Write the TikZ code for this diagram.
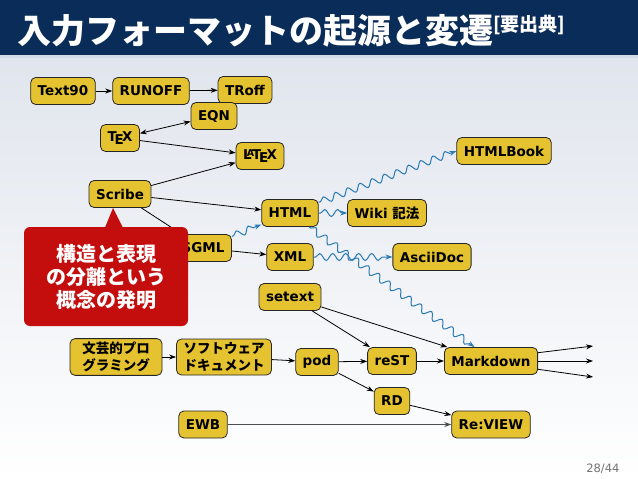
\documentclass[tikz,border=0pt]{standalone}
\usepackage{fontspec}
\setmainfont{DejaVu Sans}
\newfontfamily\jpfont{Noto Sans CJK JP}
\usetikzlibrary{arrows.meta, decorations.pathmorphing}

\definecolor{titlenavy}{RGB}{10,44,88}
\definecolor{stripblue}{RGB}{212,220,234}
\definecolor{boxgold}{RGB}{229,194,48}
\definecolor{wavyblue}{RGB}{40,122,180}
\definecolor{calloutred}{RGB}{196,14,14}

\begin{document}
\begin{tikzpicture}[x=1pt, y=-1pt, >={Stealth[length=7pt,width=5pt]},
    box/.style={draw=black!85, fill=boxgold, rounded corners=5pt, line width=0.8pt,
        font=\fontsize{13.5}{15}\selectfont\bfseries, inner xsep=7pt, minimum height=27pt},
    jpbox/.style={font=\jpfont\fontsize{13.5}{17}\selectfont\bfseries, align=center,
        minimum height=36pt, minimum width=92pt},
    flow/.style={->, line width=0.8pt},
    wave/.style={->, draw=wavyblue, line width=1pt, decorate,
        decoration={snake, amplitude=3.5pt, segment length=13pt, pre length=2pt, post length=5pt}},
    callout/.style={fill=calloutred, rounded corners=6pt, minimum width=164pt, minimum height=99pt,
        text=white, align=center, font=\jpfont\fontsize{20}{23}\selectfont\bfseries}]
    \useasboundingbox (0,0) rectangle (638,479);

    % Background and title bar
    \fill[top color=black!4!stripblue!60, bottom color=white] (0,55) rectangle (638,479);
    \fill[titlenavy] (0,0) rectangle (638,55);
    \fill[stripblue] (0,55) rectangle (638,58);
    \node[anchor=base west, text=white, inner sep=0pt, font=\jpfont\fontsize{34}{40}\selectfont\bfseries] (title) at (17,43)
        {入力フォーマットの起源と変遷\raisebox{12pt}{\fontsize{19}{20}\selectfont[要出典]}};
    \node[anchor=base east, text=black!55, font=\fontsize{11.5}{13}\selectfont] (pagenum) at (623,472) {28/44};

    % Formats
    \node[box] (text90) at (63,91) {Text90};
    \node[box] (runoff) at (151,91) {RUNOFF};
    \node[box] (troff) at (245,90) {TRoff};
    \node[box] (eqn) at (214,116) {EQN};
    \node[box] (tex) at (120,138) {\TeX};
    \node[box] (latex) at (260,156) {\LaTeX};
    \node[box] (scribe) at (120,194) {Scribe};
    \node[box] (html) at (290,213) {HTML};
    \node[box] (wiki) at (387,213) {Wiki {\jpfont 記法}};
    \node[box] (htmlbook) at (504,151) {HTMLBook};
    \node[box] (sgml) at (203,248) {SGML};
    \node[box] (xml) at (290,257) {XML};
    \node[box] (asciidoc) at (432,257) {AsciiDoc};
    \node[box] (setext) at (290,297) {setext};
    \node[box, jpbox] (litprog) at (116,357) {文芸的プロ\\グラミング};
    \node[box, jpbox] (softdoc) at (224,357) {ソフトウェア\\ドキュメント};
    \node[box] (pod) at (317,362) {pod};
    \node[box] (rest) at (392,361) {reST};
    \node[box] (markdown) at (491,361) {Markdown};
    \node[box] (rd) at (392,401) {RD};
    \node[box] (ewb) at (203,424.5) {EWB};
    \node[box] (review) at (491,424.5) {Re:VIEW};

    \coordinate (out1) at (593,346);
    \coordinate (out2) at (593,361);
    \coordinate (out3) at (593,377);

    % Plain arrows
    \draw[flow] (text90) -- (runoff);
    \draw[flow] (runoff) -- (troff);
    \draw[flow, <->] (tex) -- (eqn);
    \draw[flow] (tex) -- (latex);
    \draw[flow] (scribe) -- (latex);
    \draw[flow] (scribe) -- (html);
    \draw[flow] (scribe) -- (sgml);
    \draw[flow] (sgml) -- (xml);
    \draw[flow] (setext) -- (rest);
    \draw[flow] (setext) -- (markdown);
    \draw[flow] (litprog) -- (softdoc);
    \draw[flow] (softdoc) -- (pod);
    \draw[flow] (pod) -- (rest);
    \draw[flow] (pod) -- (rd);
    \draw[flow] (rest) -- (markdown);
    \draw[flow] (rd) -- (review);
    \draw[flow, draw=black!70, line width=1.4pt] (ewb) -- (review);
    \draw[flow] (markdown.10) -- (out1);
    \draw[flow] (markdown) -- (out2);
    \draw[flow] (markdown.-10) -- (out3);

    % Wavy arrows
    \draw[wave] (sgml) -- (html);
    \draw[wave] (html) -- (htmlbook.west);
    \draw[wave] (html) -- (wiki);
    \draw[wave] (html) -- (markdown.140);
    \draw[wave] (xml) -- (asciidoc);

    % Callout on Scribe
    \node[callout] (idea) at (106,276.5) {構造と表現\\の分離という\\概念の発明};
    \fill[calloutred] (104,230) -- (113,208) -- (124,230) -- cycle;
\end{tikzpicture}
\end{document}
